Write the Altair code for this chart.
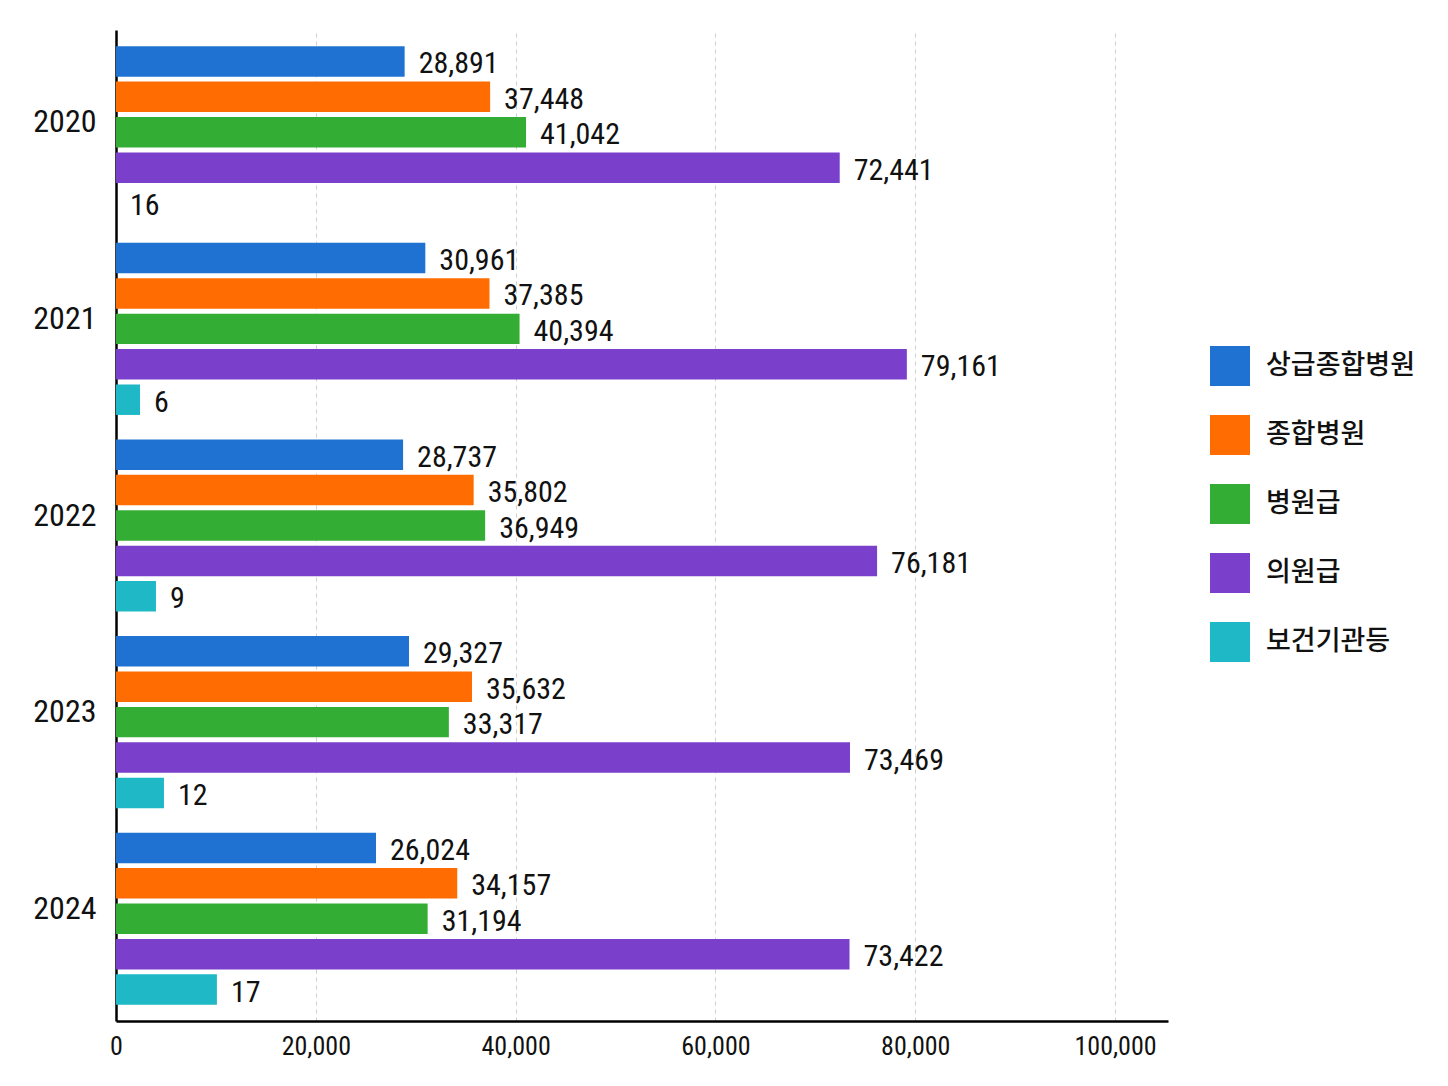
import altair as alt
import pandas as pd

years = ["2020", "2021", "2022", "2023", "2024"]
categories = ["상급종합병원", "종합병원", "병원급", "의원급", "보건기관등"]
colors = ["#1f72d2", "#ff6c02", "#33ad34", "#7a40cb", "#1eb8c6"]

# label values per category (by year)
labels = {
    "상급종합병원": [28891, 30961, 28737, 29327, 26024],
    "종합병원": [37448, 37385, 35802, 35632, 34157],
    "병원급": [41042, 40394, 36949, 33317, 31194],
    "의원급": [72441, 79161, 76181, 73469, 73422],
    "보건기관등": [16, 6, 9, 12, 17],
}
# bar lengths as drawn in the picture (보건기관등 bars are drawn on a different scale)
bar_lengths = {
    "상급종합병원": [28891, 30961, 28737, 29327, 26024],
    "종합병원": [37448, 37385, 35802, 35632, 34157],
    "병원급": [41042, 40394, 36949, 33317, 31194],
    "의원급": [72441, 79161, 76181, 73469, 73422],
    "보건기관등": [0, 2400, 4000, 4800, 10100],
}
x_ticks = [0, 20000, 40000, 60000, 80000, 100000]

rows = []
for c in categories:
    for i, y in enumerate(years):
        rows.append({"year": y, "cat": c, "bar": bar_lengths[c][i],
                     "label": f"{labels[c][i]:,}"})
df = pd.DataFrame(rows)

NUM_FONT = "Liberation Sans Narrow, Roboto Condensed, Roboto, sans-serif"
KR_FONT = "Noto Sans CJK KR"

y_enc = alt.Y("year:N", sort=years, title=None,
              scale=alt.Scale(paddingInner=0.11, paddingOuter=0.075),
              axis=alt.Axis(domain=True, domainColor="#000", domainWidth=2.5,
                            ticks=False, labelFontSize=32, labelFont=NUM_FONT,
                            labelColor="#111", labelPadding=20, labelOffset=-10))
yoff = alt.YOffset("cat:N", sort=categories,
                   scale=alt.Scale(paddingInner=0.14, paddingOuter=0.04))
x_enc = alt.X("bar:Q", title=None,
              scale=alt.Scale(domain=[0, 105300], nice=False),
              axis=alt.Axis(values=x_ticks, format=",d", domain=True,
                            domainColor="#000", domainWidth=2.5, ticks=False,
                            labelFontSize=26, labelFont=NUM_FONT,
                            labelColor="#111", labelPadding=12, grid=True,
                            gridDash=[4, 4], gridColor="#cfcfcf", gridWidth=1,
                            labelFlush=False))

bars = alt.Chart(df).mark_bar().encode(
    y=y_enc, yOffset=yoff, x=x_enc,
    color=alt.Color("cat:N", sort=categories,
                    scale=alt.Scale(domain=categories, range=colors),
                    legend=alt.Legend(title=None, orient="none",
                                      legendX=1094, legendY=316,
                                      symbolType="square", symbolSize=1600,
                                      symbolStrokeWidth=0, symbolOpacity=1,
                                      labelFontSize=27, labelFont=KR_FONT,
                                      labelFontWeight=500,
                                      labelColor="#111", labelOffset=16,
                                      labelLimit=400, rowPadding=29)),
)

text = alt.Chart(df).mark_text(align="left", baseline="middle", dx=14, dy=3,
                               fontSize=30, font=NUM_FONT, color="#111").encode(
    y=y_enc, yOffset=yoff, x=x_enc, text="label:N",
)

chart = alt.layer(bars, text).properties(
    width=1052, height=991,
    background="white",
    autosize=alt.AutoSizeParams(type="none"),
    padding={"left": 108, "top": 22, "right": 260, "bottom": 55},
).configure_view(strokeWidth=0)

chart.save("out.html", embed_options={"renderer": "svg", "actions": False})
